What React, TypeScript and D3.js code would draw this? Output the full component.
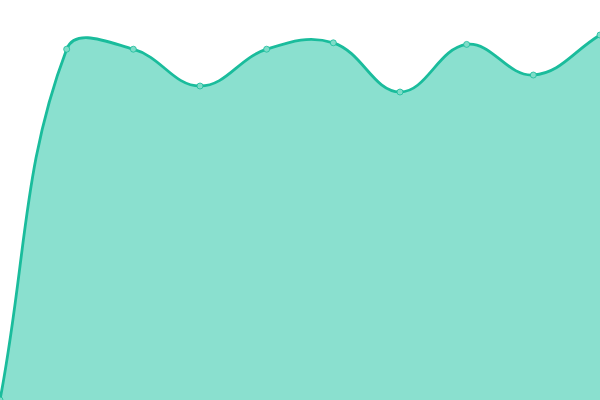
import React from "react";
import * as d3 from "d3";

const categories = ["0", "1", "2", "3", "4", "5", "6", "7", "8", "9"];
const values = [0, 87.7, 87.7, 78.5, 87.7, 89.3, 77, 88.9, 81.25, 91.25];

const W = 600;
const H = 400;
const TENSION = 0.4;

// Spline curve (tension-based, like Chart.js) as a d3 curve factory
function makeSplineCurve(tension: number, w: number, h: number) {
  function Spline(this: any, context: any) {
    this._context = context;
  }
  Spline.prototype = {
    areaStart() {
      this._line = 0;
    },
    areaEnd() {
      this._line = NaN;
    },
    lineStart() {
      this._x = [];
      this._y = [];
    },
    point(x: number, y: number) {
      this._x.push(+x);
      this._y.push(+y);
    },
    lineEnd() {
      const xs: number[] = this._x;
      const ys: number[] = this._y;
      const n = xs.length;
      const ctx = this._context;
      if (n) {
        if (this._line) ctx.lineTo(xs[0], ys[0]);
        else ctx.moveTo(xs[0], ys[0]);
        const cps: { px: number; py: number; nx: number; ny: number }[] = [];
        for (let i = 0; i < n; i++) {
          const pi = i > 0 ? i - 1 : i;
          const ni = i < n - 1 ? i + 1 : i;
          const d01 = Math.hypot(xs[i] - xs[pi], ys[i] - ys[pi]);
          const d12 = Math.hypot(xs[ni] - xs[i], ys[ni] - ys[i]);
          let s01 = d01 / (d01 + d12);
          let s12 = d12 / (d01 + d12);
          if (isNaN(s01)) s01 = 0;
          if (isNaN(s12)) s12 = 0;
          const fa = tension * s01;
          const fb = tension * s12;
          const clampX = (v: number) => Math.max(0, Math.min(w, v));
          const clampY = (v: number) => Math.max(0, Math.min(h, v));
          cps.push({
            px: clampX(xs[i] - fa * (xs[ni] - xs[pi])),
            py: clampY(ys[i] - fa * (ys[ni] - ys[pi])),
            nx: clampX(xs[i] + fb * (xs[ni] - xs[pi])),
            ny: clampY(ys[i] + fb * (ys[ni] - ys[pi])),
          });
        }
        for (let i = 1; i < n; i++) {
          ctx.bezierCurveTo(cps[i - 1].nx, cps[i - 1].ny, cps[i].px, cps[i].py, xs[i], ys[i]);
        }
      }
      if (this._line || (this._line !== 0 && n === 1)) ctx.closePath();
      this._line = 1 - this._line;
      this._x = this._y = null;
    },
  };
  return (context: any) => new (Spline as any)(context);
}

export default function App() {
  const x = d3.scalePoint<string>().domain(categories).range([0, W]);
  const y = d3.scaleLinear().domain([0, 100]).range([H, 0]);
  const pts: [number, number][] = values.map((v, i) => [x(categories[i]) as number, y(v)]);
  const curve = makeSplineCurve(TENSION, W, H) as any;
  const line = d3.line<[number, number]>().x((d) => d[0]).y((d) => d[1]).curve(curve);
  const area = d3
    .area<[number, number]>()
    .x((d) => d[0])
    .y0(H)
    .y1((d) => d[1])
    .curve(curve);
  return (
    <svg
      width={W}
      height={H}
      style={{ position: "absolute", left: 0, top: 0, background: "#fff" }}
    >
      <path d={area(pts) || ""} fill="#8ae0cf" />
      <path d={line(pts) || ""} fill="none" stroke="#1abc9c" strokeWidth={2.8} />
      {pts.map((p, i) => (
        <circle key={i} cx={p[0]} cy={p[1]} r={3} fill="#7fdcc8" stroke="#1abc9c" strokeWidth={0.8} />
      ))}
    </svg>
  );
}
